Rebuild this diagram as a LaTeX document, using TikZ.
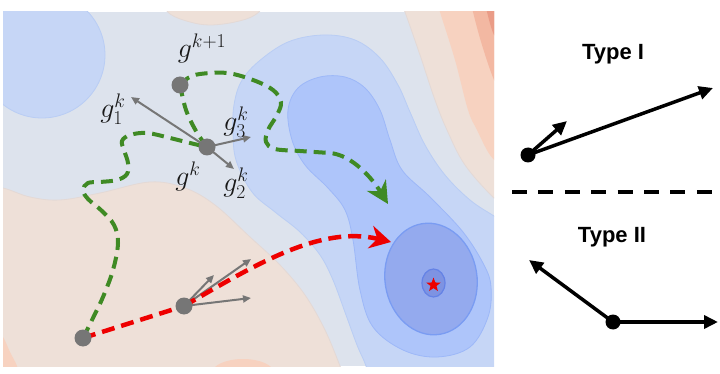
\RequirePackage{fix-cm}
\documentclass[tikz,border=0pt]{standalone}
\usepackage{fontspec}
\newfontfamily\typefont{Liberation Sans}
\usetikzlibrary{arrows.meta,shapes.geometric}
\pgfdeclarelayer{bg}
\pgfdeclarelayer{mid}
\pgfsetlayers{bg,mid,main}
\definecolor{cbase}{HTML}{DDE3ED}
\definecolor{cpeach}{HTML}{EEE0D8}
\definecolor{cpeachline}{HTML}{E3D9D6}
\definecolor{csalmon}{HTML}{F7D2C0}
\definecolor{corangeb}{HTML}{F3B8A2}
\definecolor{corangec}{HTML}{EA9C87}
\definecolor{cblueA}{HTML}{C6D6F6}
\definecolor{cblueAline}{HTML}{B9CDF4}
\definecolor{cblueB}{HTML}{AEC5FA}
\definecolor{cblueBline}{HTML}{9DB8F8}
\definecolor{cblueC}{HTML}{94AAEE}
\definecolor{cblueCline}{HTML}{7A9CF2}
\definecolor{cblueD}{HTML}{7E93E2}
\definecolor{cblueDline}{HTML}{6482E6}
\definecolor{cgreen}{HTML}{3F8A24}
\definecolor{cred}{HTML}{EE0000}
\definecolor{cdot}{HTML}{767676}
\begin{document}
\begin{tikzpicture}[x=1pt,y=-1pt,
  dotg/.style={circle,fill=cdot,minimum size=17pt,inner sep=0pt},
  dotk/.style={circle,fill=black,minimum size=15pt,inner sep=0pt},
  lab/.style={font=\fontsize{28}{32}\selectfont,inner sep=0pt,text=black!90},
  typelab/.style={font=\typefont\bfseries\fontsize{22}{26}\selectfont,inner sep=0pt,anchor=base},
  greenpath/.style={draw=cgreen,line width=4pt,dash pattern=on 12pt off 7pt},
  redpath/.style={draw=cred,line width=4.5pt,dash pattern=on 13pt off 7pt},
  grad/.style={draw=cdot,line width=2pt,-{Triangle[length=8pt,width=7pt]}},
  blk/.style={draw=black,line width=3.5pt,-{Triangle[length=14pt,width=13pt]}},
  contour/.style={line width=0.8pt},
]
\useasboundingbox (0,0) rectangle (720,374);

% ---------- contour background ----------
\begin{pgfonlayer}{bg}
\begin{scope}
\clip (3,12) rectangle (494,366);
\fill[cbase] (3,12) rectangle (494,366);
% lower-left peach
\filldraw[fill=cpeach,draw=cpeachline,contour] plot[smooth,tension=0.6] coordinates {(-20,186) (3,188) (30,197) (60,200) (100,193) (150,182) (185,188) (215,205) (250,237) (280,265) (305,295) (325,330) (340,366) (345,380)} -- (345,400) -- (-20,400) -- cycle;
% top peach blob
\filldraw[fill=cpeach,draw=cpeachline,contour] plot[smooth,tension=0.6] coordinates {(160,0) (170,14) (190,22) (210,25) (235,22) (255,15) (270,0)} -- cycle;
% right bands
\filldraw[fill=cpeach,draw=cpeachline,contour] plot[smooth,tension=0.6] coordinates {(400,0) (405,12) (420,55) (435,100) (447,130) (465,165) (494,198) (510,208)} -- (530,230) -- (530,-10) -- (395,-10) -- cycle;
\fill[csalmon] plot[smooth,tension=0.6] coordinates {(437,0) (440,12) (455,60) (468,110) (477,130) (490,155) (505,170)} -- (530,180) -- (530,-10) -- (430,-10) -- cycle;
\fill[corangeb] plot[smooth,tension=0.6] coordinates {(471,0) (473,12) (482,45) (494,80) (505,100)} -- (530,110) -- (530,-10) -- (465,-10) -- cycle;
\fill[corangec] plot[smooth,tension=0.6] coordinates {(485,0) (487,12) (494,35) (505,50)} -- (530,60) -- (530,-10) -- (480,-10) -- cycle;
% bottom salmon blobs
\fill[csalmon] plot[smooth,tension=0.6] coordinates {(-5,330) (3,337) (10,352) (17,366) (20,380)} -- (-5,380) -- cycle;
\fill[csalmon] (243,373) ellipse [x radius=31, y radius=14];
% top-left blue circle
\filldraw[fill=cblueA,draw=cblueAline,contour] (42,55) circle [radius=63];
% blue level 1
\filldraw[fill=cblueA,draw=cblueAline,contour] plot[smooth,tension=0.6] coordinates {(368,380) (366,366) (357,345) (346,315) (333,280) (320,255) (300,232) (275,212) (252,192) (236,160) (233,130) (234,105) (241,82) (258,62) (288,42) (323,35) (355,40) (380,58) (398,85) (410,112) (425,145) (445,175) (470,200) (494,216) (510,226)} -- (530,230) -- (530,390) -- (368,390) -- cycle;
% blue level 2
\filldraw[fill=cblueB,draw=cblueBline,contour] plot[smooth cycle,tension=0.6] coordinates {(288,110) (292,140) (305,165) (328,188) (345,210) (353,240) (360,290) (373,327) (403,350) (437,357) (470,347) (488,317) (491,287) (484,265) (463,232) (430,197) (402,170) (390,140) (380,110) (365,88) (345,77) (320,77) (298,88)};
% blue level 3
\filldraw[fill=cblueC,draw=cblueCline,line width=1.3pt,rotate around={9:(431,279)}] (431,279) ellipse [x radius=46, y radius=56];
% blue level 4
\filldraw[fill=cblueD,draw=cblueDline,line width=1.2pt] (433.5,283) ellipse [x radius=11.5, y radius=14];
\end{scope}
\end{pgfonlayer}

% ---------- nodes ----------
\node[dotg] (s) at (83,338) {};
\node[dotg] (m) at (184,306) {};
\node[dotg] (gk) at (207,147) {};
\node[dotg] (gk1) at (180,85) {};
\node[star,star points=5,star point ratio=2.4,fill=cred,minimum size=15pt,inner sep=0pt] (opt) at (433.5,285) {};

\coordinate (gtip) at (388,204);
\coordinate (rtip) at (391,242);
\coordinate (g1tip) at (131,97);
\coordinate (g2tip) at (234,169);
\coordinate (g3tip) at (251,137);
\coordinate (m1tip) at (251,259);
\coordinate (m2tip) at (214,275);
\coordinate (m3tip) at (251,298);

\node[lab] (lgk1) at (202,48) {$g^{k+1}$};
\node[lab] (lg1) at (113,109) {$g^{k}_{1}$};
\node[lab] (lg3) at (236,122) {$g^{k}_{3}$};
\node[lab] (lgk) at (188,176) {$g^{k}$};
\node[lab] (lg2) at (236,183) {$g^{k}_{2}$};

% ---------- paths ----------
\begin{pgfonlayer}{mid}
\draw[greenpath] plot[smooth,tension=0.6] coordinates {(s.center) (92,320) (103,297) (113,270) (118,243) (114,225) (102,211) (88,199) (83,190) (88,183) (100,182) (117,180) (127,174) (128,163) (124,150) (122,141) (130,135) (147,133) (170,138) (190,143) (gk.center)};
\draw[greenpath] plot[smooth,tension=0.6] coordinates {(gk.center) (196,131) (186,110) (gk1.center)};
\draw[greenpath,-{Stealth[length=22pt,width=22pt,inset=7pt]}] plot[smooth,tension=0.6] coordinates {(gk1.center) (188,78) (200,74) (227,73) (253,80) (273,90) (281,102) (277,115) (268,130) (266,142) (275,149) (300,151) (330,153)} .. controls (352,155) and (372,178) .. (gtip);

\draw[grad] (gk.center) -- (g1tip);
\draw[grad] (gk.center) -- (g2tip);
\draw[grad] (gk.center) -- (g3tip);
\draw[grad] (m.center) -- (m1tip);
\draw[grad] (m.center) -- (m2tip);
\draw[grad] (m.center) -- (m3tip);

\draw[redpath] (s.center) -- (m.center);
\draw[redpath,-{Stealth[length=21pt,width=23pt,inset=7pt]}] (m.center) .. controls (255,265) and (320,225) .. (rtip);
\end{pgfonlayer}

% ---------- right panel ----------
\node[typelab] (t1) at (613,60) {Type I};
\node[dotk] (a1) at (528,155) {};
\coordinate (a1long) at (713,88);
\coordinate (a1short) at (567,121);
\draw[blk] (a1.center) -- (a1long);
\draw[blk] (a1.center) -- (a1short);

\coordinate (sepL) at (512,192);
\coordinate (sepR) at (712,192);
\draw[line width=4pt,dash pattern=on 15pt off 11.4pt] (sepL) -- (sepR);

\node[typelab] (t2) at (612,243) {Type II};
\node[dotk] (a2) at (613,322) {};
\coordinate (a2left) at (529,260);
\coordinate (a2right) at (718,322);
\draw[blk] (a2.center) -- (a2left);
\draw[blk] (a2.center) -- (a2right);
\end{tikzpicture}
\end{document}
